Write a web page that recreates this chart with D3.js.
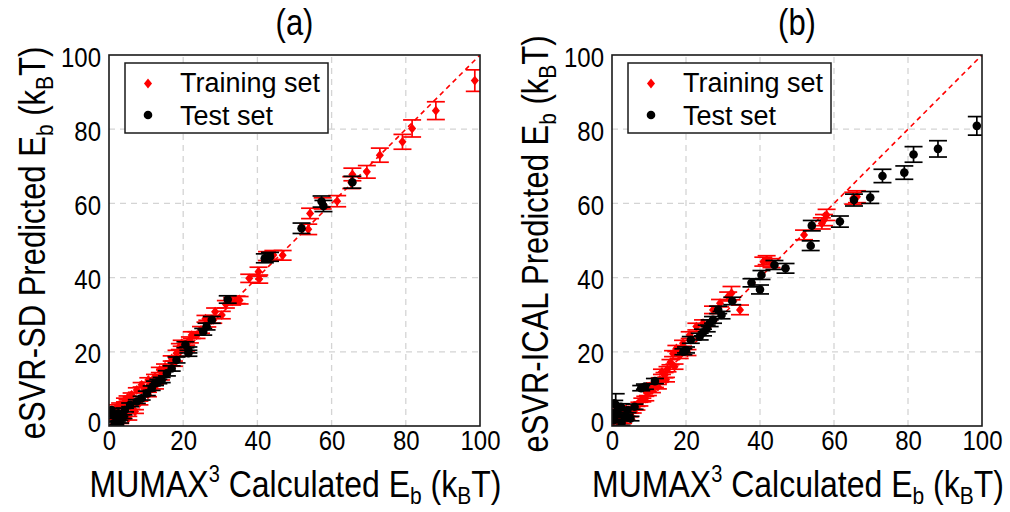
<!DOCTYPE html>
<html>
<head>
<meta charset="utf-8">
<script src="https://cdn.jsdelivr.net/npm/d3@7"></script>
<style>
  body { margin: 0; background: #fff; }
  text { font-family: "Liberation Sans", Arial, Helvetica, sans-serif; }
</style>
</head>
<body>
<svg id="chart" width="1010" height="512"></svg>
<script>
// Axis ticks (both axes, both panels)
const tickValues = [0, 20, 40, 60, 80, 100];
const tickLabels = ["0", "20", "40", "60", "80", "100"];
const legendLabels = ["Training set", "Test set"];
const panelTitles = ["(a)", "(b)"];
const modelNames = ["eSVR-SD", "eSVR-ICAL"];

// Each entry: [MUMAX3 calculated Eb, predicted Eb, prediction error] in kBT
const trainA = [
  [98.6, 93.1, 2.9], [88.1, 85.0, 2.4], [81.7, 80.2, 2.3], [79.1, 76.6, 2.0],
  [73.0, 73.0, 1.9], [69.5, 68.5, 1.7], [65.6, 67.8, 1.7], [65.3, 65.6, 1.6],
  [61.5, 60.6, 1.5], [57.6, 60.0, 1.5], [54.2, 57.3, 1.4], [53.7, 53.0, 1.4],
  [46.8, 46.0, 1.3], [44.3, 46.1, 1.2], [42.6, 45.8, 1.2], [40.3, 41.6, 1.2],
  [37.8, 39.8, 1.1], [40.5, 39.6, 1.1], [34.4, 34.0, 1.0], [33.2, 33.6, 1.0],
  [30.4, 29.9, 1.0], [28.6, 30.8, 1.0], [28.1, 28.6, 0.9], [26.5, 27.6, 0.9],
  [23.6, 24.5, 0.9], [22.3, 24.5, 0.9], [21.8, 23.2, 0.8], [19.6, 22.3, 0.8],
  [19.1, 21.4, 0.8], [18.2, 19.6, 0.8], [16.9, 18.2, 0.7], [15.1, 16.0, 0.7],
  [13.7, 15.1, 0.7], [12.4, 13.2, 0.7], [12.4, 10.6, 0.6], [10.6, 12.4, 0.6],
  [8.8, 11.1, 0.6], [9.6, 9.8, 0.6], [7.5, 9.7, 0.6], [6.1, 8.4, 0.5],
  [5.0, 7.6, 0.5], [4.3, 7.0, 0.5], [3.0, 5.7, 0.5], [2.2, 5.2, 0.5],
  [1.6, 4.3, 0.5], [1.0, 3.2, 0.5], [0.4, 4.0, 0.5], [1.6, 2.2, 0.5],
  [3.0, 1.2, 0.5], [5.2, 2.1, 0.5], [7.0, 3.9, 0.5], [6.0, 5.0, 0.5],
  [8.2, 6.2, 0.5], [10.5, 8.5, 0.6], [14.0, 13.1, 0.7], [17.5, 16.8, 0.7],
  [20.8, 21.0, 0.8], [24.8, 25.9, 0.9], [26.0, 28.9, 0.9], [31.5, 32.8, 1.0],
  [35.2, 33.9, 1.0]
];
const testA = [
  [65.6, 65.7, 1.6], [57.3, 60.5, 1.5], [57.8, 59.3, 1.5], [51.9, 53.3, 1.4],
  [42.0, 45.2, 1.2], [43.4, 45.6, 1.2], [32.0, 34.1, 1.0], [27.7, 28.6, 0.9],
  [26.3, 26.8, 0.9], [25.4, 25.4, 0.9], [21.4, 20.5, 0.8], [20.6, 21.9, 0.8],
  [21.4, 19.6, 0.8], [18.2, 17.8, 0.8], [16.9, 15.5, 0.7], [15.6, 14.2, 0.7],
  [14.2, 12.4, 0.7], [12.4, 11.5, 0.6], [13.3, 12.0, 0.6], [11.5, 10.2, 0.6],
  [10.2, 8.8, 0.6], [8.8, 7.5, 0.5], [7.5, 6.6, 0.5], [5.7, 5.7, 0.5],
  [4.3, 4.3, 0.5], [2.5, 3.4, 0.5], [1.2, 3.0, 0.5], [2.1, 1.6, 0.5],
  [3.0, 0.3, 0.5], [3.9, 2.5, 0.5], [0.7, 4.3, 0.5], [1.5, 0.8, 0.5],
  [2.8, 2.0, 0.5]
];
const trainB = [
  [65.2, 61.4, 1.6], [66.2, 61.8, 1.6], [58.0, 56.9, 1.5], [57.3, 55.5, 1.5],
  [56.7, 54.6, 1.5], [51.9, 51.5, 1.3], [41.8, 44.7, 1.2], [40.9, 44.3, 1.2],
  [43.1, 43.9, 1.2], [32.3, 35.8, 1.8], [31.4, 34.9, 1.2], [34.6, 31.3, 1.3],
  [29.2, 33.1, 1.0], [27.3, 31.3, 1.0], [24.6, 27.7, 0.9], [22.8, 26.8, 0.9],
  [21.0, 24.5, 0.9], [19.2, 22.3, 0.8], [17.4, 20.9, 0.8], [16.5, 19.5, 0.8],
  [18.3, 19.0, 0.8], [16.9, 16.0, 0.7], [15.8, 17.2, 0.7], [15.0, 15.3, 0.7],
  [14.2, 13.7, 0.7], [13.5, 14.6, 0.7], [12.4, 10.6, 0.6], [12.9, 12.4, 0.6],
  [11.6, 11.0, 0.6], [10.8, 9.6, 0.6], [9.7, 8.8, 0.6], [9.0, 7.4, 0.6],
  [8.2, 7.0, 0.5], [7.4, 5.9, 0.5], [6.6, 4.8, 0.5], [5.6, 4.0, 0.5],
  [4.8, 3.0, 0.5], [3.9, 2.2, 0.5], [3.0, 1.2, 0.5], [2.0, 0.6, 0.5],
  [1.2, 2.6, 0.5], [2.5, 3.8, 0.5], [1.6, 5.0, 0.5], [20.4, 19.8, 0.8],
  [14.6, 12.5, 0.6], [10.2, 10.6, 0.6]
];
const testB = [
  [98.6, 80.9, 2.5], [88.1, 74.7, 2.2], [81.5, 73.2, 2.1], [79.0, 68.3, 1.8],
  [73.1, 67.4, 1.8], [69.8, 61.6, 1.6], [65.4, 60.9, 1.6], [61.6, 55.1, 1.5],
  [54.0, 54.0, 1.4], [53.7, 48.6, 1.3], [46.9, 42.5, 1.3], [43.9, 43.4, 1.2],
  [40.4, 40.7, 1.2], [40.0, 36.8, 1.2], [37.7, 38.6, 1.1], [32.5, 33.7, 1.0],
  [29.6, 29.9, 1.0], [28.7, 31.3, 1.0], [27.3, 28.6, 0.9], [26.4, 27.7, 0.9],
  [25.6, 26.3, 0.9], [24.6, 25.2, 0.9], [23.7, 24.1, 0.9], [21.3, 23.2, 0.9],
  [20.0, 20.5, 0.8], [19.3, 20.0, 0.8], [11.6, 12.1, 0.7], [8.9, 10.6, 0.7],
  [7.9, 10.2, 0.7], [1.0, 5.7, 3.0], [0.6, 6.1, 0.8], [2.4, 5.2, 0.8],
  [4.2, 4.3, 0.7], [1.5, 3.4, 0.7], [3.4, 2.5, 0.7], [6.1, 5.2, 0.7],
  [0.6, 1.6, 0.7], [2.6, 0.8, 0.6], [5.0, 2.0, 0.6], [0.3, 3.0, 0.7]
];

const RED = "#ff0000";
const BLACK = "#000000";
const STRETCH = 1.18;   // tall, narrow lettering of the axis text
const svg = d3.select("#chart");

// Diamond marker used for the training set
const diamond = {
  draw(ctx, size) {
    const h = Math.sqrt(size) * 0.55, w = h * 0.82;
    ctx.moveTo(0, -h); ctx.lineTo(w, 0); ctx.lineTo(0, h); ctx.lineTo(-w, 0); ctx.closePath();
  }
};
const diamondPath = d3.symbol(diamond, 80)();
const CAP = 9;

const panels = [
  { left: 109, right: 480, title: panelTitles[0], model: modelNames[0], train: trainA, test: testA, yTitleX: 45, yTitleY: 243 },
  { left: 612, right: 982, title: panelTitles[1], model: modelNames[1], train: trainB, test: testB, yTitleX: 548, yTitleY: 244 }
];
const TOP = 55, BOTTOM = 426;

panels.forEach((p, pi) => {
  const x = d3.scaleLinear().domain([0, 100]).range([p.left, p.right]);
  const y = d3.scaleLinear().domain([0, 100]).range([BOTTOM, TOP]);
  const g = svg.append("g");

  const clipId = "clip" + pi;
  g.append("clipPath").attr("id", clipId)
    .append("rect").attr("x", p.left).attr("y", TOP)
    .attr("width", p.right - p.left).attr("height", BOTTOM - TOP);

  // grid
  const grid = g.append("g").attr("stroke", "#d4d4d4").attr("stroke-width", 1.3).attr("stroke-dasharray", "6,5");
  tickValues.slice(1, -1).forEach(t => {
    grid.append("line").attr("x1", x(t)).attr("x2", x(t)).attr("y1", y(0)).attr("y2", y(100));
    grid.append("line").attr("x1", x(0)).attr("x2", x(100)).attr("y1", y(t)).attr("y2", y(t));
  });

  // axes labels
  const xAxis = d3.axisBottom(x).tickValues(tickValues).tickSize(0)
    .tickFormat((d, i) => tickLabels[i]);
  const yAxis = d3.axisLeft(y).tickValues(tickValues).tickSize(0).tickPadding(8)
    .tickFormat((d, i) => tickLabels[i]);
  const gx = g.append("g").attr("transform", `translate(0,${BOTTOM})`).call(xAxis);
  const gy = g.append("g").attr("transform", `translate(${p.left},0)`).call(yAxis);
  [gx, gy].forEach(a => {
    a.select(".domain").remove();
    a.selectAll("text").attr("font-size", 24).attr("fill", "#000")
      .attr("font-family", '"Liberation Sans", Arial, sans-serif');
  });
  gx.selectAll("text").attr("y", 0).attr("dy", 0)
    .attr("transform", `translate(0,24) scale(1,${STRETCH})`);
  gy.selectAll("text").attr("dy", 0)
    .attr("transform", d => `translate(0,${d === 0 ? 5 : 11}) scale(1,${STRETCH})`);

  // y = x reference line
  g.append("line").attr("clip-path", `url(#${clipId})`)
    .attr("x1", x(0)).attr("y1", y(0)).attr("x2", x(100)).attr("y2", y(100))
    .attr("stroke", RED).attr("stroke-width", 1.6).attr("stroke-dasharray", "5,4");

  // error bars + markers
  function drawSet(data, color, marker) {
    const s = g.append("g").attr("clip-path", `url(#${clipId})`);
    const eb = s.append("g").attr("stroke", color).attr("stroke-width", 1.7).attr("fill", "none");
    data.forEach(d => {
      const cx = x(d[0]), y0 = y(d[1] - d[2]), y1 = y(d[1] + d[2]);
      eb.append("line").attr("x1", cx).attr("x2", cx).attr("y1", y0).attr("y2", y1);
      eb.append("line").attr("x1", cx - CAP).attr("x2", cx + CAP).attr("y1", y0).attr("y2", y0);
      eb.append("line").attr("x1", cx - CAP).attr("x2", cx + CAP).attr("y1", y1).attr("y2", y1);
    });
    if (marker === "diamond") {
      s.selectAll("path.pt").data(data).join("path").attr("class", "pt")
        .attr("d", diamondPath)
        .attr("transform", d => `translate(${x(d[0])},${y(d[1])})`)
        .attr("fill", color);
    } else {
      s.selectAll("circle.pt").data(data).join("circle").attr("class", "pt")
        .attr("cx", d => x(d[0])).attr("cy", d => y(d[1])).attr("r", 4.3)
        .attr("fill", color);
    }
  }
  drawSet(p.train, RED, "diamond");
  drawSet(p.test, BLACK, "circle");

  // frame
  g.append("rect").attr("x", p.left).attr("y", TOP)
    .attr("width", p.right - p.left).attr("height", BOTTOM - TOP)
    .attr("fill", "none").attr("stroke", "#1a1a1a").attr("stroke-width", 1.6);

  // legend
  const lg = g.append("g").attr("transform", `translate(${p.left + 16},63)`);
  lg.append("rect").attr("width", 203).attr("height", 70)
    .attr("fill", "#fff").attr("stroke", "#1a1a1a").attr("stroke-width", 1.5);
  lg.append("path").attr("d", diamondPath).attr("transform", "translate(23,20.5)").attr("fill", RED);
  lg.append("circle").attr("cx", 23).attr("cy", 52).attr("r", 4.3).attr("fill", BLACK);
  lg.append("text").attr("x", 55).attr("y", 29).attr("font-size", 27).text(legendLabels[0]);
  lg.append("text").attr("x", 55).attr("y", 62).attr("font-size", 27).text(legendLabels[1]);

  // panel title
  g.append("text").attr("transform", `translate(${(p.left + p.right) / 2},35) scale(1,${STRETCH})`)
    .attr("text-anchor", "middle").attr("font-size", 31).text(p.title);

  // x title: MUMAX^3 Calculated E_b (k_B T)
  const xt = g.append("text")
    .attr("transform", `translate(${(p.left + p.right) / 2 + 1},497) scale(1,${STRETCH})`)
    .attr("text-anchor", "middle").attr("font-size", 32);
  xt.append("tspan").text("MUMAX");
  xt.append("tspan").attr("font-size", 20).attr("dy", -13).text("3");
  xt.append("tspan").attr("dy", 13).text(" Calculated E");
  xt.append("tspan").attr("font-size", 21).attr("dy", 6).text("b");
  xt.append("tspan").attr("dy", -6).text(" (k");
  xt.append("tspan").attr("font-size", 21).attr("dy", 6).text("B");
  xt.append("tspan").attr("dy", -6).text("T)");

  // y title: <model> Predicted E_b (k_B T)
  const yt = g.append("text")
    .attr("transform", `translate(${p.yTitleX},${p.yTitleY}) rotate(-90) scale(1,${STRETCH})`)
    .attr("text-anchor", "middle").attr("font-size", 31);
  yt.append("tspan").text(p.model + " Predicted E");
  yt.append("tspan").attr("font-size", 21).attr("dy", 7).text("b");
  yt.append("tspan").attr("dy", -7).text(" (k");
  yt.append("tspan").attr("font-size", 21).attr("dy", 7).text("B");
  yt.append("tspan").attr("dy", -7).text("T)");
});
</script>
</body>
</html>
